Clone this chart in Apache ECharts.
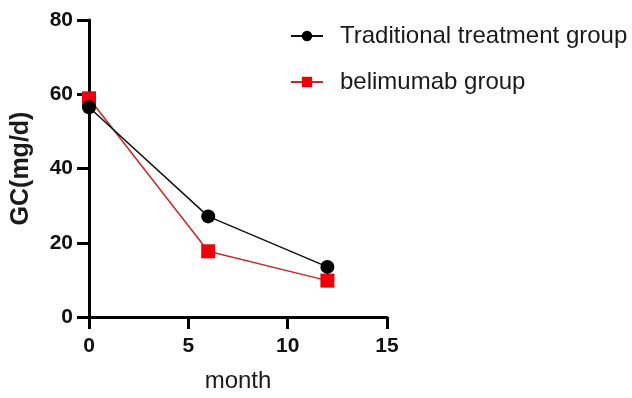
<!DOCTYPE html>
<html><head><meta charset="utf-8">
<script src="https://cdn.jsdelivr.net/npm/echarts@6/dist/echarts.min.js"></script>
<style>html,body{margin:0;padding:0;background:#fff}#c{width:632px;height:398px}</style>
</head><body><div id="c"></div>
<script>
const months = [0, 6, 12];
const traditional = [56.5, 27.1, 13.5];
const belimumab = [58.9, 17.7, 9.8];
const seriesNames = ['Traditional treatment group', 'belimumab group'];

const chart = echarts.init(document.getElementById('c'));
const font = 'Liberation Sans, Arial, sans-serif';
chart.setOption({
  animation: false,
  grid: {left: 89, right: 245, top: 20, bottom: 80.5},
  legend: {
    orient: 'vertical', left: 285, top: 19, itemGap: 22,
    itemWidth: 32, itemHeight: 13,
    textStyle: {fontFamily: font, fontSize: 24, color: '#1a1a1a', padding: [0, 0, 0, 12]},
    data: seriesNames
  },
  xAxis: {
    type: 'value', min: 0, max: 15, interval: 5,
    name: 'month', nameLocation: 'middle', nameGap: 52,
    nameTextStyle: {fontFamily: font, fontSize: 24, color: '#1a1a1a'},
    axisLine: {show: true, lineStyle: {color: '#000', width: 3}},
    axisTick: {show: true, inside: false, length: 12, lineStyle: {color: '#000', width: 3}},
    axisLabel: {fontFamily: font, fontSize: 21, fontWeight: 'bold', color: '#111', margin: 19},
    splitLine: {show: false}
  },
  yAxis: {
    type: 'value', min: 0, max: 80, interval: 20,
    name: 'GC(mg/d)', nameLocation: 'middle', nameGap: 55, nameRotate: 90,
    nameTextStyle: {fontFamily: font, fontSize: 25, fontWeight: 'bold', color: '#1a1a1a'},
    axisLine: {show: true, lineStyle: {color: '#000', width: 3}},
    axisTick: {show: true, inside: false, length: 12, lineStyle: {color: '#000', width: 3}},
    axisLabel: {fontFamily: font, fontSize: 21, fontWeight: 'bold', color: '#111', margin: 16},
    splitLine: {show: false}
  },
  series: [
    {
      name: seriesNames[0], type: 'line',
      data: months.map((m, i) => [m, traditional[i]]),
      symbol: 'circle', symbolSize: 14,
      lineStyle: {color: '#111', width: 1.5},
      itemStyle: {color: '#000'},
      z: 3
    },
    {
      name: seriesNames[1], type: 'line',
      data: months.map((m, i) => [m, belimumab[i]]),
      symbol: 'rect', symbolSize: 14,
      lineStyle: {color: '#c8282d', width: 1.5},
      itemStyle: {color: '#e8000b'},
      z: 2
    }
  ]
});
</script>
</body></html>
